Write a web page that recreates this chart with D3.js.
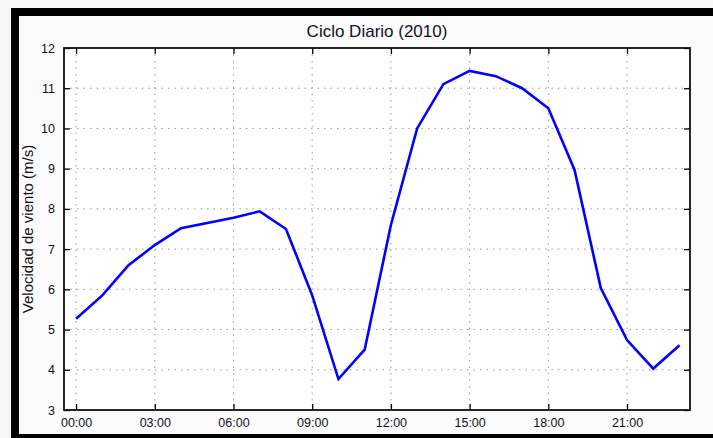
<!DOCTYPE html>
<html>
<head>
<meta charset="utf-8">
<script src="https://cdn.jsdelivr.net/npm/d3@7"></script>
<style>
  body { margin: 0; background: #f6f6f6; }
  svg { display: block; font-family: "Liberation Sans", Arial, sans-serif; }
</style>
</head>
<body>
<svg id="chart" width="713" height="438"></svg>
<script>
// hourly mean wind speed, 2010
var hours = [0, 1, 2, 3, 4, 5, 6, 7, 8, 9, 10, 11, 12, 13, 14, 15, 16, 17, 18, 19, 20, 21, 22, 23];
var speed = [5.27, 5.85, 6.6, 7.1, 7.52, 7.65, 7.78, 7.94, 7.5, 5.85, 3.77, 4.5,
             7.6, 10.0, 11.1, 11.43, 11.3, 11.0, 10.5, 8.97, 6.03, 4.74, 4.03, 4.61];
var xTicks = [0, 3, 6, 9, 12, 15, 18, 21];
var yTicks = [3, 4, 5, 6, 7, 8, 9, 10, 11, 12];

var svg = d3.select("#chart");

// outer frame like the cropped figure window
svg.append("rect").attr("x", 11).attr("y", 8).attr("width", 702).attr("height", 430).attr("fill", "#000");
svg.append("rect").attr("x", 19).attr("y", 16).attr("width", 694).attr("height", 418).attr("fill", "#fbfbfb");

var margin = {top: 48, right: 23, bottom: 28, left: 64},
    width = 713 - margin.left - margin.right,
    height = 438 - margin.top - margin.bottom;

var g = svg.append("g").attr("transform", "translate(" + margin.left + "," + margin.top + ")");

var x = d3.scaleLinear().domain([-0.46, 23.4]).range([0, width]);
var y = d3.scaleLinear().domain([3, 12]).range([height, 0]);

g.append("rect").attr("width", width).attr("height", height).attr("fill", "#fff");

// dotted grid
g.selectAll(".vgrid").data(xTicks).enter().append("line")
  .attr("x1", d => x(d)).attr("x2", d => x(d))
  .attr("y1", 0).attr("y2", height)
  .attr("stroke", "#9a9a9a").attr("stroke-dasharray", "1.5,5");
g.selectAll(".hgrid").data(yTicks.slice(1, -1)).enter().append("line")
  .attr("x1", 0).attr("x2", width)
  .attr("y1", d => y(d)).attr("y2", d => y(d))
  .attr("stroke", "#9a9a9a").attr("stroke-dasharray", "1.5,5");

// axes, ticks pointing inward on all four sides
function styleAxis(sel) {
  sel.select(".domain").remove();
  sel.selectAll(".tick line").attr("stroke", "#000").attr("stroke-width", 1.3);
  sel.selectAll("text").attr("fill", "#101020").style("font-size", "12.5px");
}

g.append("g").attr("transform", "translate(0," + height + ")")
  .call(d3.axisBottom(x).tickValues(xTicks).tickSizeInner(-6).tickPadding(8)
    .tickFormat(d => d3.format("02")(d) + ":00"))
  .call(styleAxis);
g.append("g")
  .call(d3.axisTop(x).tickValues(xTicks).tickSizeInner(-6).tickFormat(""))
  .call(styleAxis);
g.append("g")
  .call(d3.axisLeft(y).tickValues(yTicks).tickSizeInner(-6).tickPadding(9))
  .call(styleAxis);
g.append("g").attr("transform", "translate(" + width + ",0)")
  .call(d3.axisRight(y).tickValues(yTicks).tickSizeInner(-6).tickFormat(""))
  .call(styleAxis);

// box
g.append("rect").attr("width", width).attr("height", height)
  .attr("fill", "none").attr("stroke", "#111").attr("stroke-width", 1.8);

// wind speed line
var line = d3.line().x((d, i) => x(hours[i])).y(d => y(d));
g.append("path").datum(speed)
  .attr("d", line)
  .attr("fill", "none").attr("stroke", "#0000ff").attr("stroke-width", 2.6)
  .attr("stroke-linejoin", "miter");

// title and y label
g.append("text").attr("x", width / 2).attr("y", -11)
  .attr("text-anchor", "middle").style("font-size", "17px").attr("fill", "#101020")
  .text("Ciclo Diario (2010)");
g.append("text")
  .attr("transform", "translate(-31," + (height / 2) + ") rotate(-90)")
  .attr("text-anchor", "middle").style("font-size", "15px").attr("fill", "#101020")
  .text("Velocidad de viento (m/s)");
</script>
</body>
</html>
